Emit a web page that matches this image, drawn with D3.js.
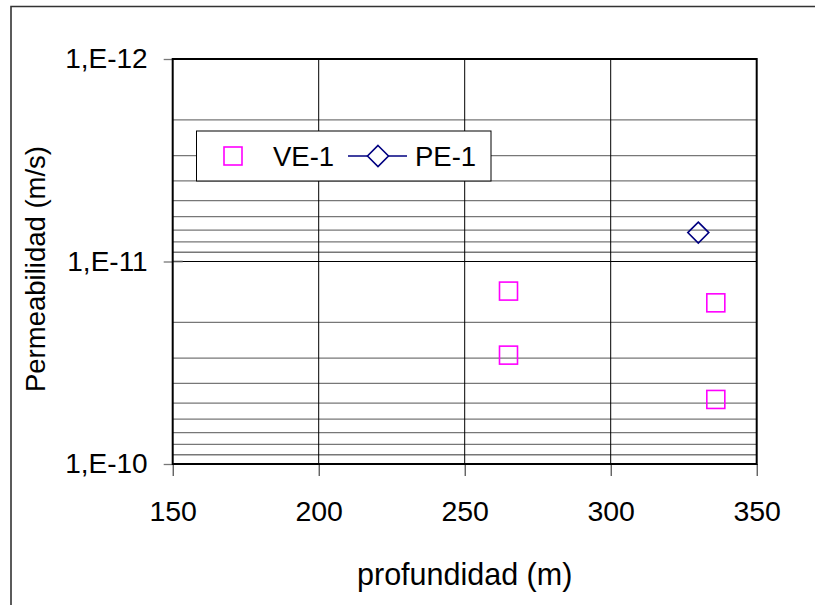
<!DOCTYPE html>
<html>
<head>
<meta charset="utf-8">
<script src="https://cdn.jsdelivr.net/npm/d3@7"></script>
<style>
  html, body { margin: 0; padding: 0; background: #fff; }
  svg { display: block; font-family: "Liberation Sans", Arial, sans-serif; }
</style>
</head>
<body>
<svg id="chart" width="821" height="605"></svg>
<script>
// Depth (m) vs. permeability (m/s) for the two boreholes
const xTicks = [150, 200, 250, 300, 350];
const yTicks = [1e-12, 1e-11, 1e-10];
const yTickLabels = ["1,E-12", "1,E-11", "1,E-10"];

const veDepth = [265, 265, 336, 336];
const veK = [1.4e-11, 2.9e-11, 1.6e-11, 4.8e-11];

const peDepth = [330];
const peK = [7.2e-12];

const seriesNames = ["VE-1", "PE-1"];

const svg = d3.select("#chart");

// outer frame
svg.append("path")
  .attr("d", "M11,605 V6.5 H815")
  .attr("fill", "none").attr("stroke", "#333").attr("stroke-width", 1.6);

const plot = { left: 172.7, top: 59, right: 756.7, bottom: 464 };

const x = d3.scaleLinear().domain([150, 350]).range([plot.left, plot.right]);
const y = d3.scaleLog().domain([1e-12, 1e-10]).range([plot.top, plot.bottom]);

// minor horizontal grid (2..9 within each decade)
const minor = [];
[-12, -11].forEach(e => { for (let k = 2; k <= 9; k++) minor.push(k * Math.pow(10, e)); });

const grid = svg.append("g");
grid.selectAll("line.minor").data(minor).enter().append("line")
  .attr("x1", plot.left).attr("x2", plot.right)
  .attr("y1", d => y(d)).attr("y2", d => y(d))
  .attr("stroke", "#777").attr("stroke-width", 1.3);

// major grid
grid.append("line")
  .attr("x1", plot.left).attr("x2", plot.right)
  .attr("y1", y(1e-11)).attr("y2", y(1e-11))
  .attr("stroke", "#000").attr("stroke-width", 1);
grid.selectAll("line.vx").data(xTicks.slice(1, -1)).enter().append("line")
  .attr("x1", d => x(d)).attr("x2", d => x(d))
  .attr("y1", plot.top).attr("y2", plot.bottom)
  .attr("stroke", "#000").attr("stroke-width", 1);

// axes
const yAxis = d3.axisLeft(y)
  .tickValues(yTicks)
  .tickFormat((d, i) => yTickLabels[i])
  .tickSize(9).tickPadding(16);
const gy = svg.append("g").attr("transform", `translate(${plot.left},0)`).call(yAxis);
gy.select(".domain").remove();
gy.selectAll(".tick line").attr("stroke", "#777").attr("stroke-width", 1.3);
gy.selectAll(".tick text").attr("font-size", 28).attr("fill", "#000")
  .attr("font-family", "Liberation Sans, Arial, sans-serif");
// the middle decade tick crosses the axis line
svg.append("line")
  .attr("x1", plot.left).attr("x2", plot.left + 10)
  .attr("y1", y(1e-11)).attr("y2", y(1e-11))
  .attr("stroke", "#555").attr("stroke-width", 1.6);

const xAxis = d3.axisBottom(x).tickValues(xTicks).tickFormat(d3.format("d"))
  .tickSize(12).tickPadding(25);
const gx = svg.append("g").attr("transform", `translate(0,${plot.bottom})`).call(xAxis);
gx.select(".domain").remove();
gx.selectAll(".tick line").attr("stroke", "#222").attr("stroke-width", 1);
gx.selectAll(".tick text").attr("font-size", 28.5).attr("fill", "#000")
  .attr("font-family", "Liberation Sans, Arial, sans-serif");

// plot frame
svg.append("rect")
  .attr("x", plot.left).attr("y", plot.top)
  .attr("width", plot.right - plot.left).attr("height", plot.bottom - plot.top)
  .attr("fill", "none").attr("stroke", "#000").attr("stroke-width", 2);

// axis titles
svg.append("text")
  .attr("x", (plot.left + plot.right) / 2).attr("y", 585)
  .attr("text-anchor", "middle").attr("font-size", 30.5)
  .text("profundidad (m)");
svg.append("text")
  .attr("transform", "translate(45,269) rotate(-90)")
  .attr("text-anchor", "middle").attr("font-size", 27.5)
  .text("Permeabilidad (m/s)");

const sq = 18, dia = 10.5;
const magenta = "#FF00FF", navy = "#000080";

// VE-1 squares
svg.append("g").selectAll("rect").data(veDepth.map((d, i) => [d, veK[i]])).enter().append("rect")
  .attr("x", d => x(d[0]) - sq / 2).attr("y", d => y(d[1]) - sq / 2)
  .attr("width", sq).attr("height", sq)
  .attr("fill", "none").attr("stroke", magenta).attr("stroke-width", 1.6);

// PE-1 line with diamond markers
const peData = peDepth.map((d, i) => [d, peK[i]]);
svg.append("path").datum(peData)
  .attr("d", d3.line().x(d => x(d[0])).y(d => y(d[1])))
  .attr("fill", "none").attr("stroke", navy).attr("stroke-width", 1.6);
const diamond = (cx, cy) => `M${cx},${cy - dia} L${cx + dia},${cy} L${cx},${cy + dia} L${cx - dia},${cy} Z`;
svg.append("g").selectAll("path").data(peData).enter().append("path")
  .attr("d", d => diamond(x(d[0]), y(d[1])))
  .attr("fill", "none").attr("stroke", navy).attr("stroke-width", 1.6);

// legend
const lg = svg.append("g");
lg.append("rect").attr("x", 196.5).attr("y", 131).attr("width", 294.5).attr("height", 50)
  .attr("fill", "#fff").attr("stroke", "#000").attr("stroke-width", 1);
lg.append("rect").attr("x", 233 - sq / 2).attr("y", 156 - sq / 2).attr("width", sq).attr("height", sq)
  .attr("fill", "none").attr("stroke", magenta).attr("stroke-width", 1.6);
lg.append("text").attr("x", 273).attr("y", 166).attr("font-size", 27.5).text(seriesNames[0]);
lg.append("line").attr("x1", 348).attr("x2", 407).attr("y1", 156).attr("y2", 156)
  .attr("stroke", navy).attr("stroke-width", 1.6);
lg.append("path").attr("d", diamond(378, 156))
  .attr("fill", "#fff").attr("stroke", navy).attr("stroke-width", 1.6);
lg.append("text").attr("x", 415).attr("y", 166).attr("font-size", 27.5).text(seriesNames[1]);
</script>
</body>
</html>
